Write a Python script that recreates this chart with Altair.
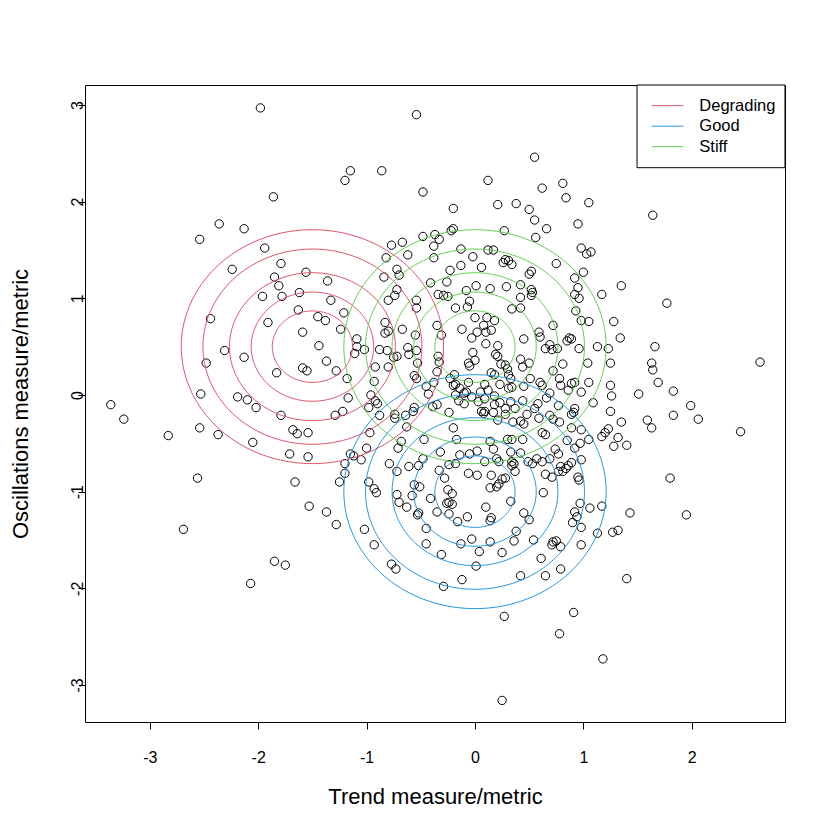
import altair as alt
import numpy as np
import pandas as pd

# Observations: trend measure (x) and oscillations measure (y)
trend = [
    -1.98, -2.36, -2.13, -2.54, -1.94, -2.24, -1.96,
    -0.54, -1.15, -1.20, -0.86, -1.86, -0.48, -0.48, -0.37, -0.38, -0.77, -0.67, -0.82, -0.62,
    -0.38, -1.79, -1.56, -1.85, -0.72, -0.70, -0.84, -1.36, -1.81, -0.41, -1.62, -1.78, -0.72,
    -0.74, -1.33, -0.54, -0.34, -0.80,
    0.55, 0.12, 0.62, 0.81, 0.84, 1.05, -0.20, 0.21, 0.38, 0.50, 0.55, 0.95, 0.66, 0.27, -0.22,
    -0.20, -0.33, 0.56, 0.98, 1.03, 1.07, -0.13, 0.12, 0.17, -0.02, 0.28, 0.31, 0.26, 0.34, 0.75,
    -0.13, 0.06, -0.23, 0.52, 0.50, 1.00, 0.92, -0.26, 0.01, 0.42, 0.95, 0.29, 0.14, -0.08, 0.52,
    0.53, -0.29, -0.25, 0.92, 0.96, 1.17, 0.42, 0.52,
    1.64, 1.35, 1.77,
    -2.44, -1.91, -2.31, -2.13, -2.48, -2.53, -2.19, -2.10, -2.02, -3.36, -3.24, -2.83, -2.54,
    -2.37, -2.05, -2.56,
    -0.54, -1.63, -1.45, -1.38, -1.21, -1.59, -1.24, -0.83, -0.83, -0.80, -0.67, -0.55, -1.44,
    -1.09, -1.09, -1.11, -1.02, -0.88, -0.81, -0.72, -0.75, -0.62, -0.61, -0.54, -0.53, -1.37,
    -1.28, -1.59, -1.55, -1.83, -0.92, -0.80, -0.56, -0.54, -1.18, -0.93, -0.45, -0.38, -0.43,
    -1.17, -0.96, -0.92, -0.90, -0.98, -0.88, -1.22, -1.29, -1.79, -0.74, -0.74, -0.64, -0.57,
    -0.56, -0.63, -0.39, -0.35, -1.68, -1.64, -1.54, -0.97, -0.68, -0.47, -1.00, -0.71, -1.71,
    -1.54, -1.15, -1.12, -1.05, -1.20, -0.48, -0.79, -0.61, -0.52, -0.72, -1.20, -1.25, -1.66,
    -0.98, -0.93, -0.91, -0.56, -0.51, -0.72, -0.58, -0.41, -0.70, -0.63, -1.53, -1.37,
    -0.05, -0.07, -0.18, 0.34, 0.42, 0.93, -0.35, -0.31, -0.34, -0.33, -0.35, -0.19, -0.23,
    -0.20, -0.18, -0.14, -0.08, -0.10, -0.18, -0.15, -0.10, -0.24, 0.00, 0.11, 0.18, 0.08, 0.15,
    0.10, 0.02, -0.03, -0.12, 0.10, 0.21, 0.45, 0.59, 0.60, 0.72, 0.98, 1.05, 0.87, 0.85, 0.89,
    0.69, 0.65, 0.71, 0.76, 0.96, 1.13, 1.23, -0.02, 0.00, -0.06, -0.05, 0.19, 0.21, 0.24, 0.28,
    0.30, 0.42, 0.44, 0.50, 0.81, 1.04, 1.25, 0.15, 0.18, 0.31, 0.33, 0.51, 0.72, 0.60, 0.62,
    0.78, 0.79, 0.89, 0.92, 0.86, 1.05, 1.25, -0.06, 0.09, 0.12, 0.05, 0.23, 0.31, 0.34, 0.45,
    0.98, 0.69, 0.66, -0.03, 0.03, 0.09, 0.18, 0.23, 0.18, 0.33, 0.37, 0.44, 0.58, 0.55, 0.77,
    0.92, 0.91, 0.89, 1.09, 1.25, 0.06, 0.09, 0.08, 0.17, 0.28, 0.28, 0.48, 0.69, 0.72, 0.21,
    0.35, 0.42, 0.45, 0.59, 0.78, 0.89, -0.20, 0.62, 0.65, 0.98, 1.17, 1.20, 1.23, 0.30, 0.34,
    0.44, 0.14, -0.17, 0.85, 0.97, 1.05, 0.17, 0.02, -0.05, -0.14, -0.32, 0.33, 0.42, 0.74, 0.77,
    0.92, 0.20, 0.22, 0.34, 0.36, 0.34, 0.49, 0.53, 0.57, 0.62, 0.69, 0.09, -0.18, -0.24, 0.79,
    0.84, 0.86, 0.89, 0.98, 0.65, 0.71, 0.77, 0.81, 0.37, 0.28, 0.25, 0.22, 0.20, 0.15, -0.06,
    0.02, -0.33, -0.28, 0.95, 0.96, 0.14, -0.25, -0.21, 0.63, -0.24, -0.26, -0.21, 0.10, 0.33,
    0.97, 1.06, 1.17,
    1.28, 1.34, 1.66, 1.63, 1.64, 2.63, 1.69, 1.26, 1.51, 1.83, 1.99, 2.06, 1.83, 1.59, 1.63,
    1.35, 1.32, 1.28, 1.40, 2.45, 1.80,
    -2.69, -2.07,
    -1.28, -1.02, -0.93, -1.85, -1.75, -0.77, -0.73, -0.52, -0.53, -0.35, -0.45, -0.45, -0.31,
    -0.29,
    -0.24, -0.07, -0.16, 0.15, 0.14, 0.45, 0.50, 0.92, 0.94, 0.90, 0.98, 0.38, -0.03, 0.14, 0.36,
    0.54, -0.13, 0.72, 0.75, 0.71, 0.79, 0.98, 1.13, 0.04, 0.25, 0.61, 0.01, 0.79, 0.42, 0.65,
    -0.12, 0.27, 0.91, 0.78, 1.18, 0.25,
    1.43, 1.95, 1.27, 1.32, 1.40,
]
oscillation = [
    2.97, 1.77, 1.72, 1.61, 1.52, 1.30, 1.02,
    2.90, 2.32, 2.22, 2.32, 2.05, 2.10, 1.64, 1.66, 1.54, 1.55, 1.58, 1.42, 1.45,
    1.42, 1.36, 1.27, 1.22, 1.30, 1.24, 1.22, 1.18, 1.13, 1.16, 1.06, 1.02, 1.09,
    1.03, 0.98, 0.98, 1.04, 0.98,
    2.46, 2.22, 2.14, 2.19, 2.04, 1.99, 1.93, 1.97, 1.98, 1.92, 1.81, 1.77, 1.72, 1.70, 1.70,
    1.72, 1.61, 1.63, 1.52, 1.46, 1.48, 1.51, 1.50, 1.50, 1.43, 1.40, 1.39, 1.37, 1.35, 1.36,
    1.34, 1.32, 1.29, 1.28, 1.25, 1.27, 1.21, 1.17, 1.13, 1.14, 1.11, 1.12, 1.10, 1.08, 1.09,
    1.06, 1.03, 1.02, 1.04, 1.00, 1.04, 1.01, 1.03,
    1.86, 1.13, 0.95,
    0.79, 0.75, 0.46, 0.39, 0.33, 0.01, -0.02, -0.05, -0.13, -0.10, -0.25, -0.42, -0.34,
    -0.41, -0.49, -0.86,
    0.90, 0.88, 0.81, 0.77, 0.85, 0.65, 0.68, 0.75, 0.64, 0.66, 0.68, 0.62, 0.51,
    0.58, 0.50, 0.43, 0.47, 0.47, 0.46, 0.40, 0.39, 0.49, 0.42, 0.46, 0.33, 0.35,
    0.25, 0.28, 0.25, 0.23, 0.29, 0.29, 0.20, 0.17, 0.17, 0.14, 0.09, 0.13, 0.01,
    -0.03, 0.00, -0.06, -0.09, -0.13, -0.21, -0.17, -0.21, -0.21, -0.20, -0.24, -0.21, -0.17,
    -0.13, -0.33, -0.12, -0.10, -0.36, -0.40, -0.39, -0.39, -0.48, -0.46, -0.55, -0.55, -0.61,
    -0.64, -0.61, -0.63, -0.67, -0.71, -0.66, -0.71, -0.74, -0.73, -0.79, -0.81, -0.90, -0.90,
    -0.90, -0.97, -1.01, -0.93, -0.95, -1.03, -1.04, -1.07, -1.11, -1.16, -1.15, -1.21,
    0.97, 0.91, 0.90, 0.89, 0.90, 0.87, 0.72, 0.62, 0.40, 0.34, 0.24, 0.21, 0.17,
    0.10, 0.11, 0.07, 0.03, 0.02, 0.00, -0.06, -0.09, -0.18, 0.80, 0.80, 0.77, 0.72, 0.67,
    0.65, 0.65, 0.59, 0.68, 0.53, 0.51, 0.58, 0.65, 0.60, 0.72, 0.77, 0.76, 0.59, 0.56, 0.58,
    0.52, 0.48, 0.47, 0.48, 0.48, 0.50, 0.48, 0.44, 0.36, 0.33, 0.30, 0.42, 0.40, 0.32, 0.31,
    0.27, 0.37, 0.29, 0.33, 0.32, 0.33, 0.33, 0.23, 0.21, 0.21, 0.17, 0.17, 0.25, 0.13, 0.10,
    0.17, 0.10, 0.12, 0.13, 0.05, 0.13, 0.10, 0.13, 0.11, 0.05, 0.03, 0.11, 0.07, 0.08, 0.09,
    0.03, 0.02, -0.03, -0.02, -0.07, -0.04, -0.01, -0.08, -0.10, -0.07, -0.14, -0.06, -0.09, -0.14, -0.11,
    -0.14, -0.18, -0.20, -0.08, -0.17, -0.17, -0.17, -0.19, -0.18, -0.14, -0.20, -0.20, -0.21, -0.25, -0.26,
    -0.28, -0.27, -0.30, -0.24, -0.28, -0.34, -0.34, -0.39, -0.41, -0.36, -0.43, -0.39, -0.35, -0.46, -0.46,
    -0.46, -0.48, -0.46, -0.47, -0.50, -0.46, -0.56, -0.58, -0.61, -0.62, -0.59, -0.59, -0.60, -0.56, -0.61,
    -0.55, -0.66, -0.69, -0.69, -0.71, -0.73, -0.69, -0.71, -0.66, -0.69, -0.66, -0.69, -0.71, -0.72, -0.74,
    -0.76, -0.73, -0.70, -0.67, -0.82, -0.85, -0.79, -0.79, -0.79, -0.86, -0.87, -0.92, -0.95, -0.83, -0.81,
    -0.83, -0.78, -0.86, -0.85, -0.88, -0.96, -0.98, -1.02, -1.01, -1.11, -1.12, -1.13, -1.16, -1.10,
    -1.12, -1.17, -1.15,
    0.76, 0.59, 0.50, 0.33, 0.26, 0.34, 0.13, -0.01, 0.01, 0.04, -0.11, -0.25, -0.21, -0.26, -0.34,
    -0.28, -0.44, -0.53, -0.52, -0.38, -0.86,
    -1.39, -1.95,
    -1.34, -1.39, -1.55, -1.72, -1.76, -1.75, -1.80, -1.22, -1.24, -1.21, -1.38, -1.54, -1.65,
    -1.98,
    -1.23, -1.26, -1.31, -1.27, -1.30, -1.22, -1.29, -1.21, -1.26, -1.32, -1.37, -1.41, -1.49, -1.52, -1.51,
    -1.50, -1.54, -1.52, -1.51, -1.55, -1.57, -1.55, -1.43, -1.62, -1.63, -1.69, -1.77, -1.80, -1.87, -1.87,
    -1.91, -2.29, -2.25, -2.47, -2.73, -3.16,
    -1.22, -1.24, -1.42, -1.40, -1.90,
]

# Mixture components: centres and contour radii of each density
components = ["Degrading", "Good", "Stiff"]
centre_x = [-1.5, 0.0, 0.0]
centre_y = [0.5, -1.0, 0.5]
contour_radii = [0.37, 0.565, 0.765, 1.01, 1.21]
palette = ["#DF536B", "#2297E6", "#61D04F"]

FONT = "Liberation Sans"

points = pd.DataFrame({"trend": trend, "oscillation": oscillation})

theta = np.linspace(0, 2 * np.pi, 181)
rings = []
for name, cx, cy in zip(components, centre_x, centre_y):
    for r in contour_radii:
        for k, t in enumerate(theta):
            rings.append({"component": name, "ring": f"{name}-{r}", "k": k,
                          "cx": cx + r * np.cos(t), "cy": cy + r * np.sin(t)})
rings = pd.DataFrame(rings)

x_scale = alt.Scale(domain=[-3.598, 2.86], nice=False, zero=False)
y_scale = alt.Scale(domain=[-3.383, 3.207], nice=False, zero=False)

# integer tick labels with a plain hyphen for negatives
tick_label = "datum.value < 0 ? '-' + abs(datum.value) : '' + datum.value"

x_axis = alt.Axis(values=[-3, -2, -1, 0, 1, 2], title="Trend measure/metric",
                  labelExpr=tick_label,
                  labelBaseline="middle", labelPadding=28,
                  titleX=350, titleY=74, titleBaseline="middle", titleAlign="center")
y_axis = alt.Axis(values=[-3, -2, -1, 0, 1, 2, 3], title="Oscillations measure/metric",
                  labelExpr=tick_label,
                  labelAngle=270, labelAlign="center", labelBaseline="middle", labelPadding=1,
                  titleX=-65, titleY=318.5, titleAngle=270, titleBaseline="middle",
                  titleAlign="center")

scatter = alt.Chart(points).mark_point(
    shape="circle", filled=False, size=70, strokeWidth=1, color="black", opacity=1
).encode(
    x=alt.X("trend:Q", scale=x_scale, axis=x_axis),
    y=alt.Y("oscillation:Q", scale=y_scale, axis=y_axis),
)

contours = alt.Chart(rings).mark_line(strokeWidth=1, clip=True).encode(
    x=alt.X("cx:Q", scale=x_scale),
    y=alt.Y("cy:Q", scale=y_scale),
    detail="ring:N",
    order="k:Q",
    color=alt.Color("component:N", scale=alt.Scale(domain=components, range=palette),
                    legend=None),
)

# Legend box in the top-right corner of the plot
legend_layers = [
    alt.Chart(pd.DataFrame({"a": [0]})).mark_rect(
        fill="white", stroke="black", strokeWidth=1
    ).encode(x=alt.value(552), x2=alt.value(700), y=alt.value(0), y2=alt.value(82.7))
]
for i, (name, col) in enumerate(zip(components, palette)):
    yy = 20.7 + i * 20.5
    row = pd.DataFrame({"label": [name]})
    legend_layers.append(
        alt.Chart(row).mark_rule(color=col, strokeWidth=1).encode(
            x=alt.value(566.7), x2=alt.value(598.3), y=alt.value(yy))
    )
    legend_layers.append(
        alt.Chart(row).mark_text(align="left", baseline="middle", font=FONT,
                                 fontSize=16.5, color="black").encode(
            x=alt.value(614.3), y=alt.value(yy), text="label:N")
    )

chart = alt.layer(scatter, contours, *legend_layers).properties(
    width=700, height=637,
    autosize=alt.AutoSizeParams(type="none"),
    padding={"left": 85, "top": 85, "right": 45, "bottom": 108},
    background="white",
).configure_view(
    stroke="black", strokeWidth=1
).configure_axis(
    grid=False, domain=False, tickColor="black", tickSize=7, tickWidth=1,
    labelFont=FONT, labelFontSize=16, labelColor="black",
    titleFont=FONT, titleFontSize=22, titleFontWeight="normal", titleColor="black",
)

chart.save("out.html", embed_options={"renderer": "svg", "actions": False})
